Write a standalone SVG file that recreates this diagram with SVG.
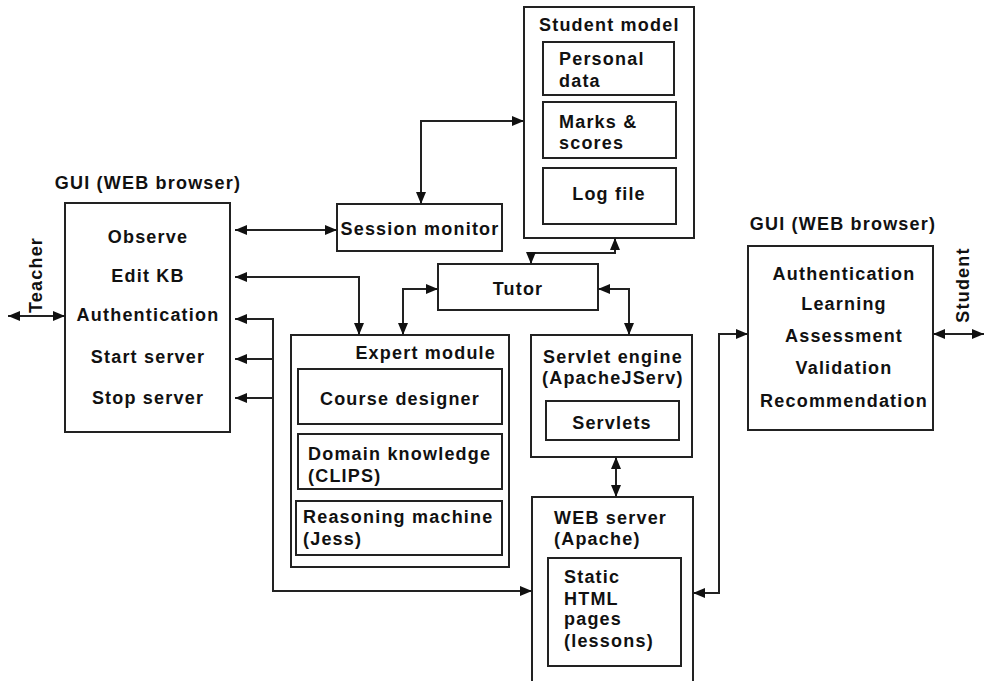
<svg xmlns="http://www.w3.org/2000/svg" width="984" height="681" viewBox="0 0 984 681">
<defs>
<style>
.b{fill:#fff;stroke:#222;stroke-width:2}
.t{font-family:"Liberation Sans",Arial,sans-serif;font-weight:bold;font-size:18px;letter-spacing:1.2px;fill:#111}
.m{text-anchor:middle}
.e{text-anchor:end}
.c{fill:none;stroke:#222;stroke-width:2;marker-start:url(#ah);marker-end:url(#ah)}
.c1{fill:none;stroke:#222;stroke-width:2;marker-end:url(#ah)}
.c0{fill:none;stroke:#222;stroke-width:2}
</style>
<marker id="ah" viewBox="0 0 12 10" refX="12" refY="5" markerWidth="12" markerHeight="10" markerUnits="userSpaceOnUse" orient="auto-start-reverse">
<path d="M0,0 L12,5 L0,10 z" fill="#111"/>
</marker>
</defs>
<rect width="984" height="681" fill="#fff"/>

<g id="gui-teacher">
<text class="t m" x="148" y="189">GUI (WEB browser)</text>
<rect class="b" x="65" y="203" width="165" height="229"/>
<text class="t m" x="148" y="243">Observe</text>
<text class="t m" x="148" y="282">Edit KB</text>
<text class="t m" x="148" y="321">Authentication</text>
<text class="t m" x="148" y="363">Start server</text>
<text class="t m" x="148" y="404">Stop server</text>
</g>

<g id="teacher">
<text class="t m" transform="translate(42,275) rotate(-90)" x="0" y="0">Teacher</text>
</g>

<g id="session-monitor">
<rect class="b" x="337" y="204" width="165" height="47"/>
<text class="t m" x="420" y="235">Session monitor</text>
</g>

<g id="student-model">
<rect class="b" x="524" y="7" width="170" height="231"/>
<text class="t" x="539" y="31">Student model</text>
<rect class="b" x="543" y="42" width="131" height="53"/>
<text class="t" x="559" y="65">Personal</text>
<text class="t" x="559" y="87">data</text>
<rect class="b" x="543" y="102" width="133" height="56"/>
<text class="t" x="559" y="128">Marks &amp;</text>
<text class="t" x="559" y="149">scores</text>
<rect class="b" x="543" y="168" width="133" height="56"/>
<text class="t m" x="609" y="200">Log file</text>
</g>

<g id="tutor">
<rect class="b" x="438" y="264" width="160" height="46"/>
<text class="t m" x="518" y="295">Tutor</text>
</g>

<g id="expert-module">
<rect class="b" x="291" y="335" width="218" height="232"/>
<text class="t e" x="496" y="359">Expert module</text>
<rect class="b" x="298" y="369" width="204" height="55"/>
<text class="t m" x="400" y="405">Course designer</text>
<rect class="b" x="298" y="434" width="204" height="55"/>
<text class="t" x="308" y="460">Domain knowledge</text>
<text class="t" x="308" y="482">(CLIPS)</text>
<rect class="b" x="296" y="501" width="206" height="54"/>
<text class="t" x="303" y="523">Reasoning machine</text>
<text class="t" x="303" y="545">(Jess)</text>
</g>

<g id="servlet-engine">
<rect class="b" x="531" y="335" width="161" height="122"/>
<text class="t" x="543" y="363">Servlet engine</text>
<text class="t" x="542" y="384">(ApacheJServ)</text>
<rect class="b" x="546" y="401" width="133" height="39"/>
<text class="t m" x="612" y="429">Servlets</text>
</g>

<g id="web-server">
<rect class="b" x="532" y="497" width="161" height="200"/>
<text class="t" x="554" y="524">WEB server</text>
<text class="t" x="554" y="545">(Apache)</text>
<rect class="b" x="548" y="558" width="133" height="108"/>
<text class="t" x="564" y="583">Static</text>
<text class="t" x="564" y="605">HTML</text>
<text class="t" x="564" y="625">pages</text>
<text class="t" x="564" y="647">(lessons)</text>
</g>

<g id="gui-student">
<text class="t m" x="843" y="230">GUI (WEB browser)</text>
<rect class="b" x="748" y="246" width="185" height="184"/>
<text class="t m" x="844" y="280">Authentication</text>
<text class="t m" x="844" y="310">Learning</text>
<text class="t m" x="844" y="342">Assessment</text>
<text class="t m" x="844" y="374">Validation</text>
<text class="t m" x="844" y="407">Recommendation</text>
</g>

<g id="student">
<text class="t m" transform="translate(969,285) rotate(-90)" x="0" y="0">Student</text>
</g>

<g id="connectors">
<path class="c" d="M8,316 H65"/>
<path class="c" d="M933,334 H984"/>
<path class="c" d="M235,230 H337"/>
<path class="c" d="M235,277 H359 V335"/>
<path class="c" d="M421,204 V121 H524"/>
<path class="c" d="M531,264 V253 H615 V238"/>
<path class="c" d="M438,289 H403 V335"/>
<path class="c" d="M598,289 H629 V335"/>
<path class="c" d="M616,457 V497"/>
<path class="c" d="M693,593 H719 V334 H748"/>
<path class="c" d="M235,319 H273 V591 H532"/>
<path class="c1" d="M273,359 H235"/>
<path class="c1" d="M273,398 H235"/>
</g>
</svg>
